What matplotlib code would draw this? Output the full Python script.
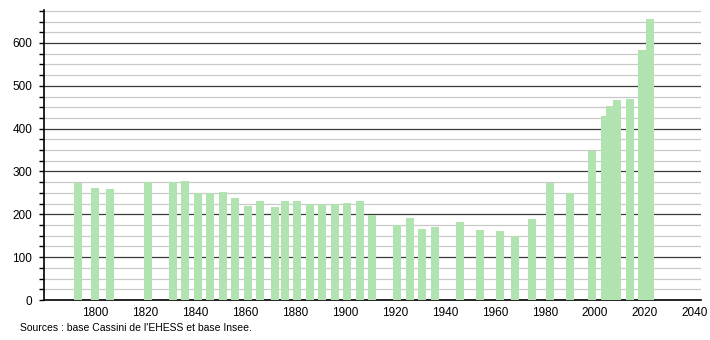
import matplotlib
matplotlib.use('Agg')
import matplotlib.pyplot as plt
import numpy as np

plt.rcParams['font.family'] = ['Liberation Sans', 'DejaVu Sans']

years = [1793, 1800, 1806, 1821, 1831, 1836, 1841, 1846, 1851, 1856, 1861, 1866,
         1872, 1876, 1881, 1886, 1891, 1896, 1901, 1906, 1911, 1921, 1926, 1931,
         1936, 1946, 1954, 1962, 1968, 1975, 1982, 1990, 1999, 2004, 2006, 2009,
         2014, 2019, 2022]
population = [272, 262, 259, 275, 276, 278, 250, 250, 251, 239, 220, 232,
              218, 232, 232, 224, 224, 224, 227, 230, 199, 175, 192, 166,
              171, 182, 164, 160, 150, 190, 272, 250, 349, 430, 453, 468,
              470, 584, 656]
source = "Sources : base Cassini de l'EHESS et base Insee."

fig = plt.figure(figsize=(7.1, 3.4), dpi=100)
ax = fig.add_axes([0.062, 0.1176, 0.925, 0.853])

ax.bar(years, population, width=3.2, color='#b0e3b0', zorder=3)

ax.set_xlim(1779.5, 2042.5)
ax.set_ylim(0, 677)
ax.set_xticks(np.arange(1800, 2041, 20))
ax.set_yticks(np.arange(0, 601, 100))
ax.set_yticks(np.arange(0, 676, 25), minor=True)
ax.grid(which='major', axis='y', color='#3a3a3a', linewidth=0.9, zorder=1)
ax.grid(which='minor', axis='y', color='#c8c8c8', linewidth=0.9, zorder=0)
ax.set_axisbelow(True)

for s in ['top', 'right']:
    ax.spines[s].set_visible(False)
ax.spines['left'].set_linewidth(1.2)
ax.spines['bottom'].set_linewidth(1.2)
ax.tick_params(axis='y', which='both', direction='out', length=3.5, width=1, labelsize=8.5, pad=5)
ax.tick_params(axis='x', length=0, labelsize=8.5, pad=5)

fig.text(0.028, 0.035, source, fontsize=7.5, va='center', ha='left')

fig.savefig('out.png', dpi=100)
